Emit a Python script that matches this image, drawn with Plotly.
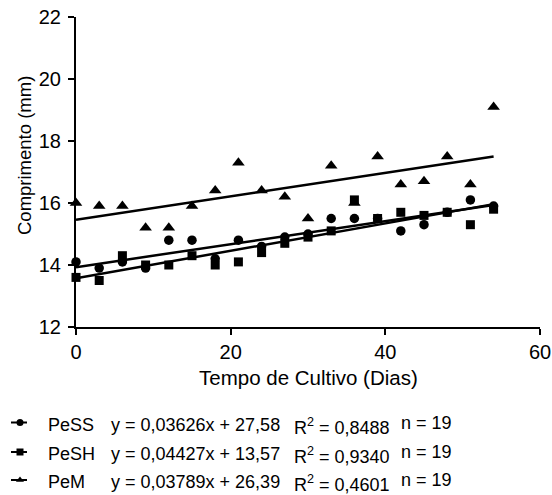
import numpy as np
import plotly.graph_objects as go

# Culture days (19 samples per treatment)
dias = [0, 3, 6, 9, 12, 15, 18, 21, 24, 27, 30, 33, 36, 39, 42, 45, 48, 51, 54]

# Mean length (mm) per treatment
pess = [14.1, 13.9, 14.1, 13.9, 14.8, 14.8, 14.2, 14.8, 14.6, 14.9,
        15.0, 15.5, 15.5, 15.5, 15.1, 15.3, 15.7, 16.1, 15.9]
pesh = [13.6, 13.5, 14.3, 14.0, 14.0, 14.3, 14.0, 14.1, 14.4, 14.7,
        14.9, 15.1, 16.1, 15.5, 15.7, 15.6, 15.7, 15.3, 15.8]
pem = [16.0, 15.9, 15.9, 15.2, 15.2, 15.9, 16.4, 17.3, 16.4, 16.2,
       15.5, 17.2, 16.0, 17.5, 16.6, 16.7, 17.5, 16.6, 19.1]

series_names = ["PeSS", "PeSH", "PeM"]
equations = ["y = 0,03626x + 27,58", "y = 0,04427x + 13,57", "y = 0,03789x + 26,39"]
r2_values = ["0,8488", "0,9340", "0,4601"]
n_values = ["19", "19", "19"]

x_ticks = [0, 20, 40, 60]
y_ticks = [12, 14, 16, 18, 20, 22]

W, H = 552, 495
FONT = "Liberation Sans, Arial, sans-serif"

# plot area in pixels
left, right, top, bottom = 76, 540, 17, 327

symbols = {"PeSS": "circle", "PeSH": "square", "PeM": "triangle-up"}
sizes = {"PeSS": 9.5, "PeSH": 9, "PeM": 11}
data = {"PeSS": pess, "PeSH": pesh, "PeM": pem}

fig = go.Figure()

# triangles first, then circles, squares on top; each with its linear fit
for name in ["PeM", "PeSS", "PeSH"]:
    y = np.array(data[name])
    x = np.array(dias)
    slope, intercept = np.polyfit(x, y, 1)
    xs = np.array([0, 54])
    fig.add_trace(go.Scatter(
        x=xs, y=slope * xs + intercept, mode="lines",
        line=dict(color="black", width=2.5), showlegend=False,
        hoverinfo="skip", cliponaxis=False))
    fig.add_trace(go.Scatter(
        x=dias, y=data[name], mode="markers", name=name,
        marker=dict(symbol=symbols[name], size=sizes[name], color="black",
                    line=dict(width=0)),
        showlegend=False, cliponaxis=False))

# legend markers on a pixel-space overlay axis
row_y = [422.5, 452, 480]
for name, ry in zip(series_names, row_y):
    fig.add_trace(go.Scatter(
        x=[20], y=[ry], mode="markers",
        marker=dict(symbol=symbols[name], size=7, color="black"),
        xaxis="x2", yaxis="y2", showlegend=False, hoverinfo="skip", cliponaxis=False))

annotations = []
for i, ry in enumerate([424.5, 453.5, 481.5]):
    yp = 1 - ry / H
    annotations.append(dict(x=46 / W, y=yp, text=series_names[i]))
    annotations.append(dict(x=109 / W, y=yp, text=equations[i]))
    annotations.append(dict(x=292 / W, y=yp - 0.004, text="R<sup>2</sup> = " + r2_values[i]))
    annotations.append(dict(x=399 / W, y=yp + 0.004, text="n = " + n_values[i]))
for a in annotations:
    a.update(xref="paper", yref="paper", xanchor="left", yanchor="middle",
             showarrow=False, font=dict(family=FONT, size=18, color="black"))

# axis titles
annotations.append(dict(x=(left + right) / 2 / W, y=1 - 377 / H, xref="paper", yref="paper",
                        text="Tempo de Cultivo (Dias)", showarrow=False,
                        xanchor="center", yanchor="middle",
                        font=dict(family=FONT, size=20.5, color="black")))
annotations.append(dict(x=24 / W, y=1 - 156 / H, xref="paper", yref="paper",
                        text="Comprimento (mm)", showarrow=False, textangle=-90,
                        xanchor="center", yanchor="middle",
                        font=dict(family=FONT, size=18.5, color="black")))

# legend line segments
shapes = []
for ry in row_y:
    shapes.append(dict(type="line", xref="paper", yref="paper",
                       x0=11 / W, x1=27 / W, y0=1 - ry / H, y1=1 - ry / H,
                       line=dict(color="black", width=2)))

axis_common = dict(showline=True, linecolor="black", linewidth=2, ticks="outside",
                   ticklen=6, tickwidth=2, tickcolor="black", showgrid=False,
                   zeroline=False, automargin=False,
                   tickfont=dict(family=FONT, size=20, color="black"))

fig.update_layout(
    width=W, height=H,
    margin=dict(l=0, r=0, t=0, b=0, pad=0, autoexpand=False),
    paper_bgcolor="white", plot_bgcolor="rgba(0,0,0,0)",
    xaxis=dict(domain=[left / W, right / W], range=[0, 60], tickvals=x_ticks,
               anchor="y", **axis_common),
    yaxis=dict(domain=[1 - bottom / H, 1 - top / H], range=[12, 22], tickvals=y_ticks,
               anchor="x", ticklabelstandoff=3, **axis_common),
    xaxis2=dict(domain=[0, 1], range=[0, W], visible=False, anchor="y2",
                fixedrange=True, automargin=False),
    yaxis2=dict(domain=[0, 1], range=[H, 0], visible=False, anchor="x2",
                fixedrange=True, automargin=False),
    annotations=annotations,
    shapes=shapes,
    font=dict(family=FONT, color="black"),
)

fig.write_html("out.html")
